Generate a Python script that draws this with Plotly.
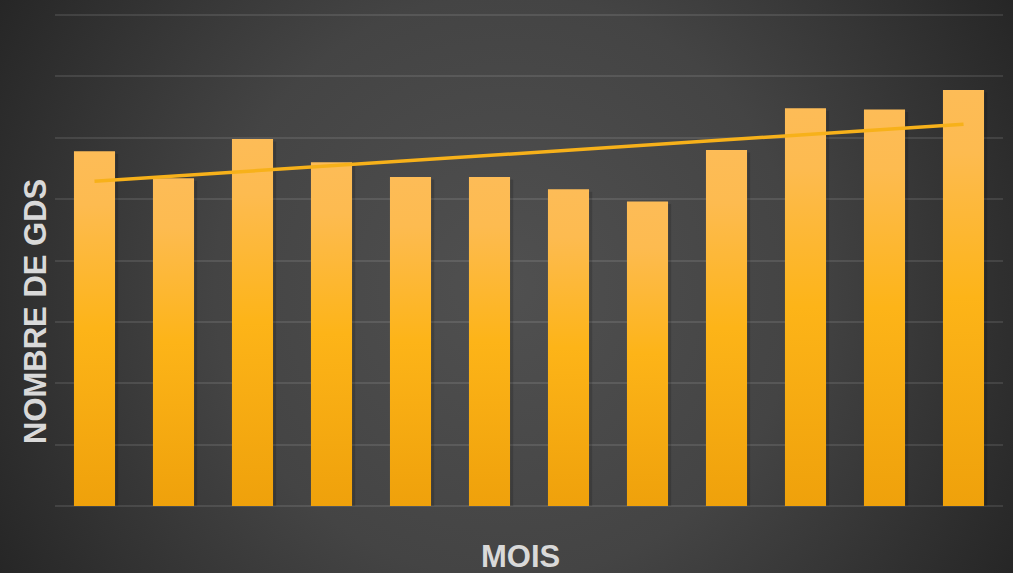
import base64
import numpy as np
import plotly.graph_objects as go

# ---- data ----
months = ["Jan", "Fév", "Mar", "Avr", "Mai", "Juin", "Juil", "Août", "Sep", "Oct", "Nov", "Déc"]
gds_values = [28.9, 26.7, 29.9, 28.0, 26.8, 26.8, 25.8, 24.8, 29.0, 32.4, 32.3, 33.9]
grid_values = [5, 10, 15, 20, 25, 30, 35, 40]
y_title = "NOMBRE DE GDS"
x_title = "MOIS"

W, H = 1013, 573
L, R, T, B = 55, 10, 12, 67
pw, ph = W - L - R, H - T - B
y_max = 40 * ph / 491.0  # keeps the top gridline just inside the plot area

x_idx = np.arange(len(months))
half = 0.26

fig = go.Figure()

bar_scale = [[0.0, "#EFA10B"], [0.5, "#FDB418"], [0.85, "#FDBB50"], [1.0, "#FDBC57"]]

# soft shadows
for i, v in zip(x_idx, gds_values):
    xs = [i - half + 0.03, i + half + 0.04, i + half + 0.04, i - half + 0.03, i - half + 0.03]
    ys = [0, 0, v - 0.2, v - 0.2, 0]
    fig.add_trace(go.Scatter(x=xs, y=ys, mode="lines", line=dict(width=0),
                             fill="toself", fillcolor="rgba(0,0,0,0.15)",
                             hoverinfo="skip", showlegend=False))

# bars with vertical gradient
for i, v, m in zip(x_idx, gds_values, months):
    xs = [i - half, i + half, i + half, i - half, i - half]
    ys = [0, 0, v, v, 0]
    fig.add_trace(go.Scatter(x=xs, y=ys, mode="lines", line=dict(width=0),
                             fill="toself",
                             fillgradient=dict(type="vertical", colorscale=bar_scale, start=0, stop=v),
                             name=m, hoverinfo="skip", showlegend=False))

# linear trend
coef = np.polyfit(x_idx, gds_values, 1)
trend = np.polyval(coef, x_idx)
fig.add_trace(go.Scatter(x=x_idx, y=trend, mode="lines",
                         line=dict(color="#F7B11A", width=3.5),
                         hoverinfo="skip", showlegend=False))

# radial background as SVG image
svg = f'''<svg xmlns="http://www.w3.org/2000/svg" width="{W}" height="{H}" viewBox="0 0 {W} {H}">
<defs><radialGradient id="g" gradientUnits="userSpaceOnUse" cx="506" cy="286" r="583">
<stop offset="0" stop-color="#505050"/><stop offset="0.5" stop-color="#444444"/>
<stop offset="1" stop-color="#262626"/></radialGradient></defs>
<rect width="{W}" height="{H}" fill="url(#g)"/></svg>'''
src = "data:image/svg+xml;base64," + base64.b64encode(svg.encode()).decode()

fig.add_layout_image(dict(source=src, xref="paper", yref="paper",
                          x=-L / pw, y=1 + T / ph, sizex=W / pw, sizey=H / ph,
                          xanchor="left", yanchor="top", sizing="stretch", layer="below"))

font_title = dict(family="Liberation Sans, Arial, sans-serif", size=31, color="#D9D9D9")
fig.add_annotation(text=f"<b>{y_title}</b>", xref="paper", yref="paper",
                   x=(35 - L) / pw, y=(H - B - 312) / ph, textangle=-90,
                   showarrow=False, font=font_title, xanchor="center", yanchor="middle")
fig.add_annotation(text=f"<b>{x_title}</b>", xref="paper", yref="paper",
                   x=(520 - L) / pw, y=-(556 - (H - B)) / ph,
                   showarrow=False, font=font_title, xanchor="center", yanchor="middle")

fig.update_layout(
    width=W, height=H,
    margin=dict(l=L, r=R, t=T, b=B),
    paper_bgcolor="#333333", plot_bgcolor="rgba(0,0,0,0)",
    showlegend=False,
    xaxis=dict(range=[-0.5, 11.5], showgrid=False, zeroline=False, showticklabels=False,
               showline=False, ticks=""),
    yaxis=dict(range=[0, y_max], tickvals=grid_values, showgrid=True,
               gridcolor="rgba(255,255,255,0.10)",
               gridwidth=2, zeroline=True, zerolinecolor="rgba(255,255,255,0.10)", zerolinewidth=2,
               showticklabels=False, showline=False, ticks=""),
)

fig.write_html("out.html", config={"displayModeBar": False},
               post_script="document.body.style.margin='0';document.body.style.overflow='hidden';")
